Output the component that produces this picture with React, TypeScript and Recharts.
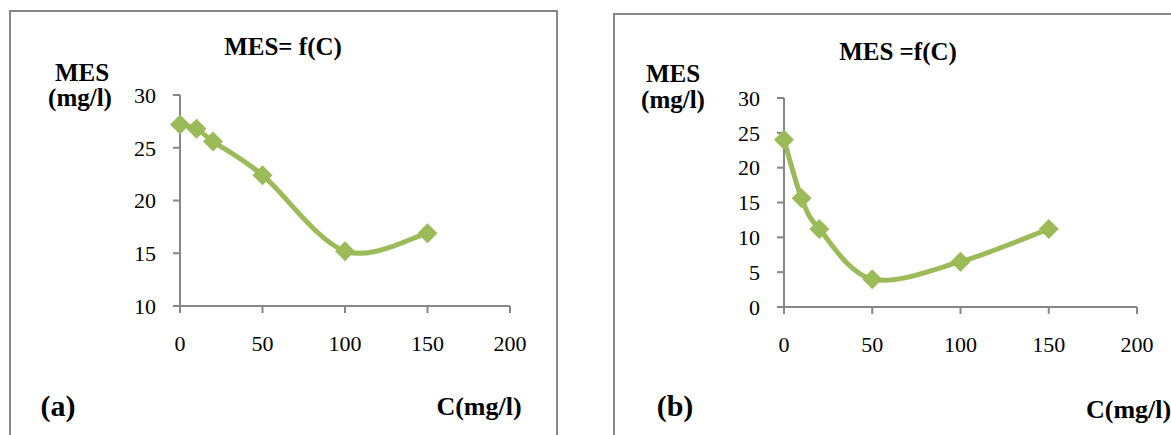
import { LineChart, Line, XAxis, YAxis } from 'recharts'

// C (mg/l) against MES (mg/l)
const concA = [0, 10, 20, 50, 100, 150]
const mesA = [27.2, 26.8, 25.6, 22.4, 15.2, 16.9]
const concB = [0, 10, 20, 50, 100, 150]
const mesB = [24.0, 15.6, 11.2, 4.0, 6.5, 11.2]

const xTicks = [0, 50, 100, 150, 200]
const yTicksA = [10, 15, 20, 25, 30]
const yTicksB = [0, 5, 10, 15, 20, 25, 30]

const FONT = '"Liberation Serif", "Times New Roman", serif'
const GREEN = '#9BBB59'
const GREY = '#878787'

// Excel-like smoothed line (Catmull-Rom through the points)
const smoothCurve = (context: any) => {
  let pts: [number, number][] = []
  return {
    areaStart() {},
    areaEnd() {},
    lineStart() {
      pts = []
    },
    point(x: number, y: number) {
      pts.push([+x, +y])
    },
    lineEnd() {
      if (!pts.length) return
      context.moveTo(pts[0][0], pts[0][1])
      for (let i = 0; i < pts.length - 1; i++) {
        const p0 = pts[i - 1] ?? pts[i]
        const p1 = pts[i]
        const p2 = pts[i + 1]
        const p3 = pts[i + 2] ?? p2
        context.bezierCurveTo(
          p1[0] + (p2[0] - p0[0]) / 6,
          p1[1] + (p2[1] - p0[1]) / 6,
          p2[0] - (p3[0] - p1[0]) / 6,
          p2[1] - (p3[1] - p1[1]) / 6,
          p2[0],
          p2[1],
        )
      }
    },
  }
}

function Diamond(props: any) {
  const { cx, cy } = props
  if (cx == null || cy == null) return null
  const r = 10
  return <path d={`M${cx},${cy - r}L${cx + r},${cy}L${cx},${cy + r}L${cx - r},${cy}Z`} fill={GREEN} />
}

interface PanelProps {
  left: number
  width: number
  margin: { top: number; right: number; bottom: number; left: number }
  conc: number[]
  mes: number[]
  yTicks: number[]
}

function Panel({ left, width, margin, conc, mes, yTicks }: PanelProps) {
  const data = conc.map((c, i) => ({ c, mes: mes[i] }))
  const tickStyle = { fill: '#000', fontSize: 22, fontFamily: FONT }
  return (
    <div style={{ position: 'absolute', left, top: 0 }}>
      <LineChart width={width} height={435} data={data} margin={margin}>
        <XAxis
          type="number"
          dataKey="c"
          domain={[0, 200]}
          ticks={xTicks}
          height={60}
          stroke={GREY}
          strokeWidth={2}
          tickSize={7}
          tickMargin={22}
          tick={tickStyle}
        />
        <YAxis
          type="number"
          domain={[yTicks[0], yTicks[yTicks.length - 1]]}
          ticks={yTicks}
          width={60}
          stroke={GREY}
          strokeWidth={2}
          tickSize={7}
          tickMargin={17}
          tick={tickStyle}
        />
        <Line
          dataKey="mes"
          type={smoothCurve as any}
          stroke={GREEN}
          strokeWidth={5}
          dot={(p: any) => <Diamond key={p.index} {...p} />}
          activeDot={false}
          isAnimationActive={false}
        />
      </LineChart>
    </div>
  )
}

export default function App() {
  const bold = { fontFamily: FONT, fontWeight: 700, fill: '#000' }
  return (
    <div style={{ position: 'fixed', left: 0, top: 0, width: 1171, height: 435, overflow: 'hidden', background: '#fff' }}>
      <svg width={1171} height={435} style={{ position: 'absolute', left: 0, top: 0 }}>
        <rect x={10} y={11} width={547} height={500} fill="none" stroke={GREY} strokeWidth={2} />
        <rect x={614} y={14} width={600} height={500} fill="none" stroke={GREY} strokeWidth={2} />
      </svg>
      <Panel
        left={0}
        width={580}
        margin={{ top: 95, right: 70, bottom: 69, left: 120 }}
        conc={concA}
        mes={mesA}
        yTicks={yTicksA}
      />
      <Panel
        left={600}
        width={571}
        margin={{ top: 98, right: 34, bottom: 68, left: 124 }}
        conc={concB}
        mes={mesB}
        yTicks={yTicksB}
      />
      <svg width={1171} height={435} style={{ position: 'absolute', left: 0, top: 0, pointerEvents: 'none' }}>
        <text x={283} y={55} textAnchor="middle" fontSize={25} {...bold}>MES= f(C)</text>
        <text x={82} y={81} textAnchor="middle" fontSize={25} {...bold}>MES</text>
        <text x={80} y={106} textAnchor="middle" fontSize={25} {...bold}>(mg/l)</text>
        <text x={58} y={416} textAnchor="middle" fontSize={30} {...bold}>(a)</text>
        <text x={479} y={415} textAnchor="middle" fontSize={26} {...bold}>C(mg/l)</text>

        <text x={898} y={60} textAnchor="middle" fontSize={25} {...bold}>MES =f(C)</text>
        <text x={673} y={82} textAnchor="middle" fontSize={25} {...bold}>MES</text>
        <text x={673} y={108} textAnchor="middle" fontSize={25} {...bold}>(mg/l)</text>
        <text x={675} y={416} textAnchor="middle" fontSize={30} {...bold}>(b)</text>
        <text x={1086} y={418} textAnchor="start" fontSize={26} {...bold}>C(mg/l)</text>
      </svg>
    </div>
  )
}
